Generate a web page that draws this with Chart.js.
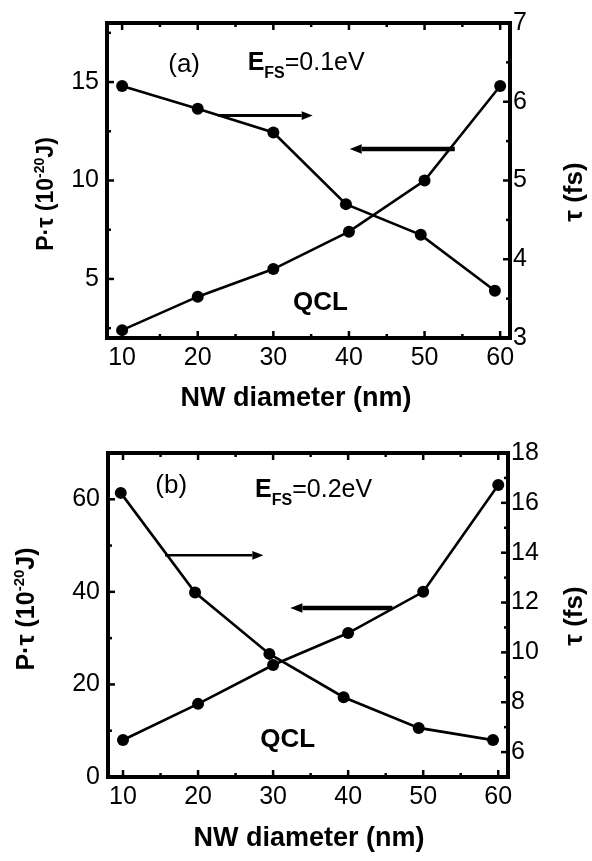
<!DOCTYPE html>
<html>
<head>
<meta charset="utf-8">
<script src="https://cdn.jsdelivr.net/npm/chart.js@4.4.1/dist/chart.umd.min.js"></script>
<style>
  body { margin: 0; background: #fff; }
  .panel { position: absolute; left: 0; }
</style>
</head>
<body>
<div class="panel" style="top:0"><canvas id="panel-a" width="592" height="425"></canvas></div>
<div class="panel" style="top:425px"><canvas id="panel-b" width="592" height="436"></canvas></div>
<script>
// NW diameter (nm) on the shared x axis
const xTicks = [10, 20, 30, 40, 50, 60];

// panel (a): E_FS = 0.1 eV
const energyDiamA = [10, 20, 30, 40, 50, 60];
const energyA = [2.4, 4.1, 5.5, 7.4, 10.0, 14.8];      // P·τ in 1e-20 J
const tauDiamA = [10, 20, 30, 39.6, 49.5, 59.3];
const tauA = [6.2, 5.91, 5.61, 4.7, 4.31, 3.6];        // τ in fs
const energyTicksA = [5, 10, 15];
const tauTicksA = [3, 4, 5, 6, 7];

// panel (b): E_FS = 0.2 eV
const energyDiamB = [10, 20, 30, 40, 50, 60];
const energyB = [8.0, 15.8, 24.2, 31.1, 40.0, 63.1];
const tauDiamB = [9.7, 19.6, 29.5, 39.4, 49.4, 59.3];
const tauB = [16.4, 12.4, 9.94, 8.2, 6.97, 6.48];
const energyTicksB = [0, 20, 40, 60];
const tauTicksB = [6, 8, 10, 12, 14, 16, 18];

const FONT = '"Liberation Sans", Arial, sans-serif';

function toPoints(xs, ys) {
  return xs.map((x, i) => ({ x: x, y: ys[i] }));
}

function minorTicks(major, min, max) {
  const step = major[1] - major[0];
  const out = [];
  for (let v = major[0] - step / 2; v < max; v += step) {
    if (v > min && v < max) out.push(v);
  }
  return out;
}

// draws text pieces one after another (for sub/superscripts)
function richWidth(ctx, parts) {
  let w = 0;
  parts.forEach(p => { ctx.font = p.font; w += ctx.measureText(p.text).width; });
  return w;
}
function drawRich(ctx, parts, x, y) {
  parts.forEach(p => {
    ctx.font = p.font;
    ctx.fillText(p.text, x, y + (p.dy || 0));
    x += ctx.measureText(p.text).width;
  });
}
function drawRotated(ctx, parts, cx, cy, size) {
  ctx.save();
  ctx.translate(cx, cy);
  ctx.rotate(-Math.PI / 2);
  drawRich(ctx, parts, -richWidth(ctx, parts) / 2, size * 0.36);
  ctx.restore();
}

function arrow(ctx, x1, x2, y, width, head) {
  const dir = Math.sign(x2 - x1);
  ctx.lineWidth = width;
  ctx.beginPath();
  ctx.moveTo(x1, y);
  ctx.lineTo(x2 - dir * head, y);
  ctx.stroke();
  ctx.beginPath();
  ctx.moveTo(x2, y);
  ctx.lineTo(x2 - dir * head, y - head * 0.4);
  ctx.lineTo(x2 - dir * head, y + head * 0.4);
  ctx.closePath();
  ctx.fill();
}

function makePanel(canvasId, p) {
  const canvas = document.getElementById(canvasId);
  const W = canvas.width, H = canvas.height;
  const tickFont = { family: FONT, size: 25 };

  const lineStyle = {
    borderColor: '#000',
    backgroundColor: '#000',
    borderWidth: 2.6,
    pointRadius: 6,
    pointBackgroundColor: '#000',
    pointBorderWidth: 0,
    tension: 0,
    clip: false
  };

  const decor = {
    id: 'panelDecor',
    afterDraw(chart) {
      const ctx = chart.ctx;
      const a = chart.chartArea;
      const sx = chart.scales.x, sy = chart.scales.y, sy2 = chart.scales.y2;
      ctx.save();
      ctx.strokeStyle = '#000';
      ctx.fillStyle = '#000';

      // frame
      ctx.lineWidth = 4;
      ctx.strokeRect(a.left, a.top, a.right - a.left, a.bottom - a.top);

      // inward ticks
      ctx.lineWidth = 2.5;
      const tick = (x1, y1, x2, y2) => { ctx.beginPath(); ctx.moveTo(x1, y1); ctx.lineTo(x2, y2); ctx.stroke(); };
      [[xTicks, 7], [minorTicks(xTicks, sx.min, sx.max), 4]].forEach(([vals, len]) => {
        vals.forEach(v => {
          const px = sx.getPixelForValue(v);
          tick(px, a.bottom, px, a.bottom - len);
          tick(px, a.top, px, a.top + len);
        });
      });
      [[p.energyTicks, 7], [minorTicks(p.energyTicks, sy.min, sy.max), 4]].forEach(([vals, len]) => {
        vals.forEach(v => { const py = sy.getPixelForValue(v); tick(a.left, py, a.left + len, py); });
      });
      [[p.tauTicks, 7], [minorTicks(p.tauTicks, sy2.min, sy2.max), 4]].forEach(([vals, len]) => {
        vals.forEach(v => { const py = sy2.getPixelForValue(v); tick(a.right, py, a.right - len, py); });
      });

      // arrows pointing at each curve's axis
      p.arrows.forEach(ar => {
        arrow(ctx, sx.getPixelForValue(ar.from), sx.getPixelForValue(ar.to),
              sy.getPixelForValue(ar.y), ar.width, ar.head);
      });

      // labels inside the plot
      ctx.textBaseline = 'alphabetic';
      ctx.textAlign = 'left';
      const at = (x, y) => [sx.getPixelForValue(x), sy.getPixelForValue(y)];
      let [lx, ly] = at(p.tag.x, p.tag.y);
      drawRich(ctx, [{ text: p.tag.text, font: '26px ' + FONT }], lx, ly + 9);
      [lx, ly] = at(p.efs.x, p.efs.y);
      drawRich(ctx, [
        { text: 'E', font: 'bold 25px ' + FONT },
        { text: 'FS', font: 'bold 16px ' + FONT, dy: 8 },
        { text: p.efs.text, font: '25px ' + FONT }
      ], lx, ly + 9);
      [lx, ly] = at(p.qcl.x, p.qcl.y);
      drawRich(ctx, [{ text: 'QCL', font: 'bold 26px ' + FONT }], lx, ly + 9);

      // axis titles
      ctx.textAlign = 'center';
      ctx.font = 'bold 27px ' + FONT;
      ctx.fillText('NW diameter (nm)', p.xTitle[0], p.xTitle[1] + 10);
      ctx.textAlign = 'left';
      const ls = p.leftTitle[2];
      drawRotated(ctx, [
        { text: 'P·τ (10', font: 'bold ' + ls + 'px ' + FONT },
        { text: '-20', font: 'bold ' + Math.round(ls * 0.6) + 'px ' + FONT, dy: -ls * 0.4 },
        { text: 'J)', font: 'bold ' + ls + 'px ' + FONT }
      ], p.leftTitle[0], p.leftTitle[1], ls);
      drawRotated(ctx, [{ text: 'τ (fs)', font: 'bold 26px ' + FONT }], p.rightTitle[0], p.rightTitle[1], 26);
      ctx.restore();
    }
  };

  return new Chart(canvas, {
    type: 'line',
    data: {
      datasets: [
        Object.assign({ label: 'P·τ', data: toPoints(p.energyDiam, p.energy), yAxisID: 'y' }, lineStyle),
        Object.assign({ label: 'τ', data: toPoints(p.tauDiam, p.tau), yAxisID: 'y2' }, lineStyle)
      ]
    },
    options: {
      responsive: false,
      animation: false,
      layout: { padding: { top: p.area.top, left: 0, right: 0, bottom: 0 } },
      plugins: { legend: { display: false }, tooltip: { enabled: false } },
      scales: {
        x: {
          type: 'linear', min: 8, max: 61.3,
          grid: { display: false, drawTicks: false }, border: { display: false },
          ticks: { font: tickFont, color: '#000', padding: 5, maxRotation: 0 },
          afterBuildTicks: s => { s.ticks = xTicks.map(v => ({ value: v })); },
          afterFit: s => { s.height = H - p.area.bottom; }
        },
        y: {
          type: 'linear', position: 'left', min: p.energyRange[0], max: p.energyRange[1],
          grid: { display: false, drawTicks: false }, border: { display: false },
          ticks: { font: tickFont, color: '#000', padding: 8 },
          afterBuildTicks: s => { s.ticks = p.energyTicks.map(v => ({ value: v })); },
          afterFit: s => { s.width = p.area.left; }
        },
        y2: {
          type: 'linear', position: 'right', min: p.tauRange[0], max: p.tauRange[1],
          grid: { display: false, drawTicks: false }, border: { display: false },
          ticks: { font: tickFont, color: '#000', padding: 3 },
          afterBuildTicks: s => { s.ticks = p.tauTicks.map(v => ({ value: v })); },
          afterFit: s => { s.width = W - p.area.right; }
        }
      }
    },
    plugins: [decor]
  });
}

makePanel('panel-a', {
  area: { left: 107, right: 510, top: 17, bottom: 338 },
  energyDiam: energyDiamA, energy: energyA, tauDiam: tauDiamA, tau: tauA,
  energyTicks: energyTicksA, tauTicks: tauTicksA,
  energyRange: [2, 18], tauRange: [3, 7],
  arrows: [
    { from: 22.7, to: 35.2, y: 13.3, width: 3, head: 11 },
    { from: 54.0, to: 40.1, y: 11.6, width: 4.5, head: 12 }
  ],
  tag: { text: '(a)', x: 16.1, y: 15.95 },
  efs: { text: '=0.1eV', x: 26.6, y: 16.05 },
  qcl: { x: 32.6, y: 3.9 },
  xTitle: [296, 396],
  leftTitle: [45, 194, 23],
  rightTitle: [573, 192]
});

makePanel('panel-b', {
  area: { left: 108, right: 508, top: 28, bottom: 352 },
  energyDiam: energyDiamB, energy: energyB, tauDiam: tauDiamB, tau: tauB,
  energyTicks: energyTicksB, tauTicks: tauTicksB,
  energyRange: [0, 70], tauRange: [5, 18],
  arrows: [
    { from: 15.6, to: 28.7, y: 47.9, width: 2.5, head: 11 },
    { from: 45.9, to: 32.3, y: 36.5, width: 4.5, head: 12 }
  ],
  tag: { text: '(b)', x: 14.3, y: 63.3 },
  efs: { text: '=0.2eV', x: 27.6, y: 62.4 },
  qcl: { x: 28.3, y: 8.4 },
  xTitle: [309, 411],
  leftTitle: [25, 184, 25],
  rightTitle: [573, 191]
});
</script>
</body>
</html>
